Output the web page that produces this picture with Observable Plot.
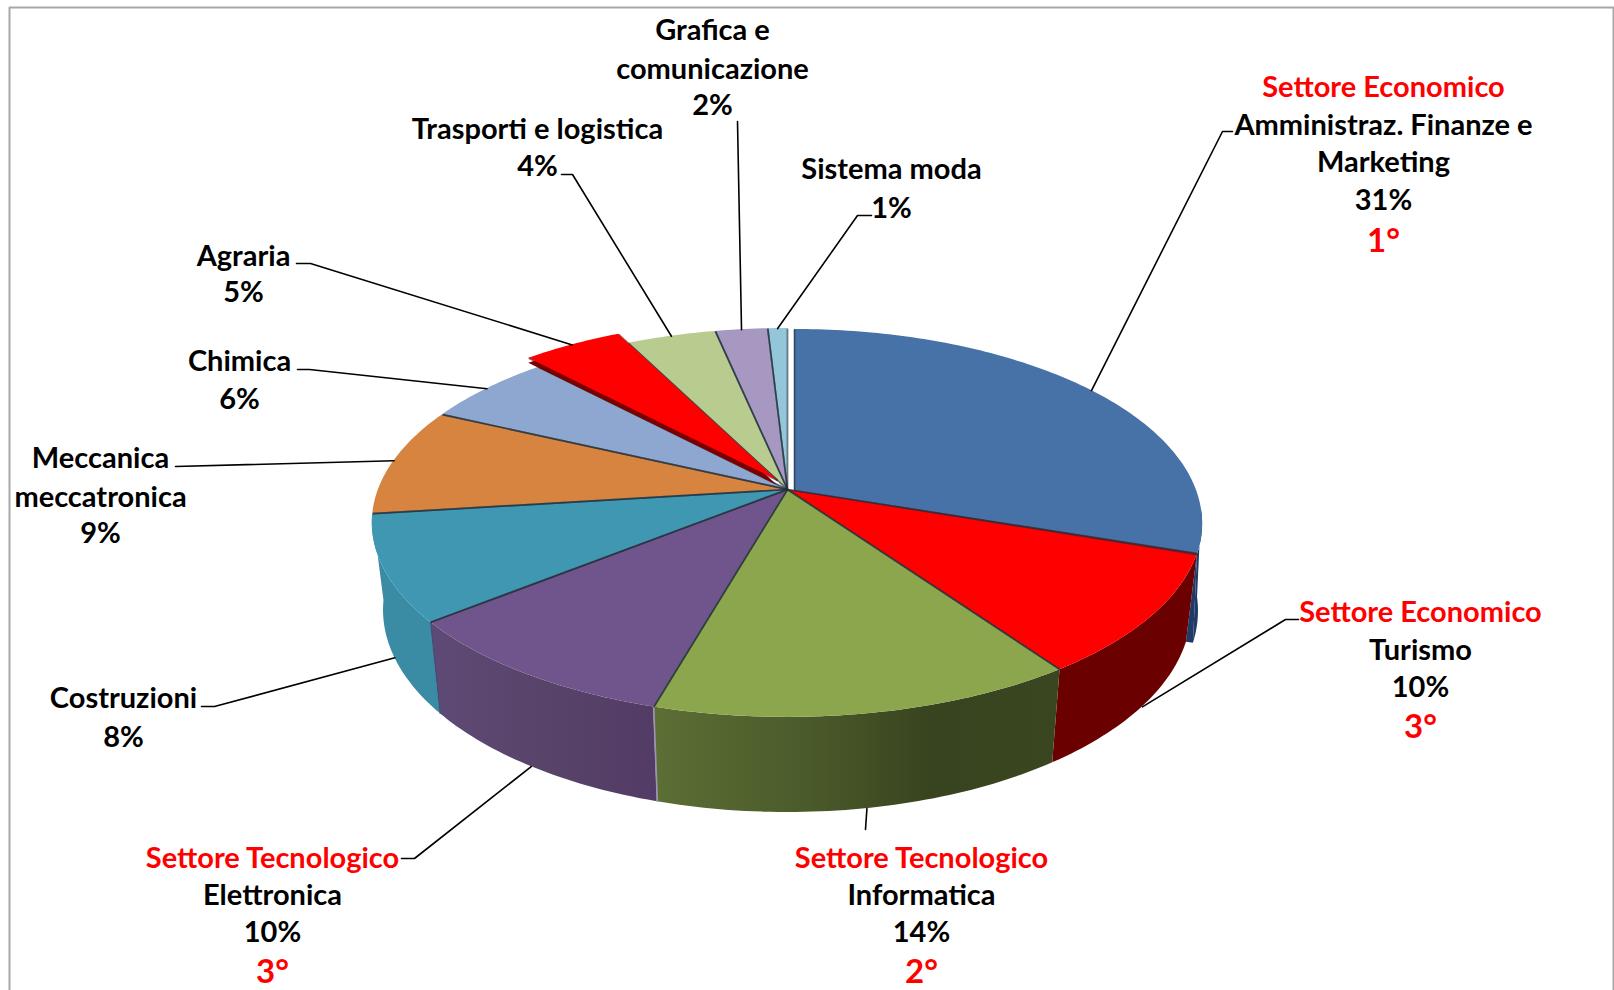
<!DOCTYPE html>
<html><head><meta charset="utf-8">
<script src="https://cdn.jsdelivr.net/npm/d3@7"></script>
<script src="https://cdn.jsdelivr.net/npm/@observablehq/plot@0.6"></script>
<style>html,body{margin:0;padding:0;background:#fff;overflow:hidden}svg{display:block}</style>
</head><body><div id="chart"></div>
<script>
// ---- data ----
const sectorLines = [["Amministraz. Finanze e","Marketing"],["Turismo"],["Informatica"],["Elettronica"],["Costruzioni"],["Meccanica","meccatronica"],["Chimica"],["Agraria"],["Trasporti e logistica"],["Grafica e","comunicazione"],["Sistema moda"]];
const shares = [30.2,10.1,14.1,9.8,8.8,9,6,4.6,4.1,2.4,0.9];   // slice sizes estimated from the drawn angles
const printedPercent = ["31%","10%","14%","10%","8%","9%","6%","5%","4%","2%","1%"];
const groupTitle = ["Settore Economico","Settore Economico","Settore Tecnologico","Settore Tecnologico",null,null,null,null,null,null,null];
const rank = ["1°","3°","2°","3°",null,null,null,null,null,null,null];

// ---- styles and layout, kept apart from the data ----
const topColors = ["#4672a8","#ff0000","#8ba64d","#70558d","#3f97b1","#d6843f","#8ea7d0","#ff0000","#b8cc90","#a698c0","#92c6d8"];
const sideColors = ["#1f3a66","#6a0000",null,null,"#3a8ba4"];
const explode = [[7,1,0.983],[0,0],[0,0],[0,0],[0,0],[0,0],[0,0],[-10,-9]];
const labelX = [1383,1420,921,272,123,100,239,243,537,712,891];
const labelY = [[87,125,162,200,241],[612,650,687,727],[858,895,932,972],[858,895,932,972],[698,737],[458,497,533],[361,399],[256,292],[129,166],[30,69,105],[169,208]];
const leaderStarts = [[[1232,131],[1222,131]],[[1298,619],[1285,619]],[[865,829]],[[401,858],[414,858]],[[201,706],[214,706]],[[175,466]],[[297,369],[309,369]],[[296,263],[310,263]],[[561,174],[572,174]],[[737,121]],[[871,215],[857,215]]];
const W = 1614, H = 990;
const cx = 787, cy = 489, a = 409, b = 188.7, k = 0.172;     // tilted-disc projection
const depth = 86, rimX = 0.973, rimY = 1.04;
const textSize = 29, rankSize = 33, red = "#ff0000", black = "#000000";

// ---- projection of a pie angle onto the tilted disc ----
const rad = d => d * Math.PI / 180;
function topPoint(t, o = [0,0]) { const u = Math.sin(rad(t)), v = Math.cos(rad(t)), n = 1 + k * v, sx = o[2] || 1;
  return {x: cx + o[0] + sx * a * u / n, y: cy + o[1] - b * v / n}; }
function rimPoint(t, o = [0,0]) { const u = Math.sin(rad(t)), v = Math.cos(rad(t)), n = 1 + k * v;
  return {x: cx + o[0] + rimX * a * u / n, y: cy + o[1] + depth - rimY * b * v / n}; }

let acc = 0;
const slices = shares.map((share, i) => { const start = acc * 3.6; acc += share;
  return {i, start, end: acc * 3.6, mid: (start + acc * 3.6) / 2, offset: explode[i] || [0,0], fill: topColors[i]}; });

const steps = (s, e) => [s, ...d3.range(Math.floor(s) + 1, e, 1), e];
const wedge = (s, lift = 0) => steps(s.start, s.end).map(t => { const p = topPoint(t, s.offset);
  return {slice: s.i, fill: s.fill, x: p.x, y: p.y + lift, ax: cx + s.offset[0], ay: cy + s.offset[1] + lift}; });
const wall = s => { const from = Math.max(s.start, 96), to = Math.min(s.end, 266);
  return from >= to ? [] : steps(from, to).map(t => { const p = topPoint(t, s.offset), q = rimPoint(t, s.offset);
    return {slice: s.i, x: p.x, y: p.y, x2: q.x, y2: q.y}; }); };

// cut face left open where the first slice is pulled away from the second
const cutFace = (t => { const o = slices[0].offset, p1 = topPoint(t, o), p2 = rimPoint(t, o), q1 = topPoint(t), q2 = rimPoint(t);
  return [{x: p1.x, y: p1.y, x2: q1.x, y2: q1.y}, {x: p2.x, y: p2.y, x2: q2.x, y2: q2.y}]; })(slices[0].end);

const edges = slices.flatMap(s => [s.start, s.end].map(t => { const p = topPoint(t, s.offset);
  return {x1: cx + s.offset[0], y1: cy + s.offset[1], x2: p.x, y2: p.y}; }));
const wallEdge = t => { const p = topPoint(t), q = rimPoint(t); return {x1: p.x, y1: p.y, x2: q.x, y2: q.y}; };

const leaders = slices.flatMap(s => { const v = Math.cos(rad(s.mid));
  const end = v < 0 ? rimPoint(s.mid, s.offset) : topPoint(s.mid, s.offset);
  return [...leaderStarts[s.i].map(([x, y]) => ({slice: s.i, x, y})), {slice: s.i, x: end.x, y: end.y}]; });

const rows = slices.flatMap(s => {
  const lines = [];
  if (groupTitle[s.i]) lines.push({text: groupTitle[s.i], color: red, size: textSize});
  sectorLines[s.i].forEach(text => lines.push({text, color: black, size: textSize}));
  lines.push({text: printedPercent[s.i], color: black, size: textSize});
  if (rank[s.i]) lines.push({text: rank[s.i], color: red, size: rankSize});
  return lines.map((l, j) => ({...l, x: labelX[s.i], y: labelY[s.i][j]}));
});

const border = [{x:9,y:H},{x:9,y:7},{x:1613,y:7},{x:1613,y:H}];

const gradients = () => {
  const svg = d3.create("svg:defs");
  const add = (id, stops) => { const g = svg.append("linearGradient").attr("id", id);
    stops.forEach(([o, c]) => g.append("stop").attr("offset", o).attr("stop-color", c)); };
  add("sideGreen", [[0,"#5c6f35"],[0.38,"#4b5a2a"],[0.68,"#38441f"],[1,"#3a4620"]]);
  add("sidePurple", [[0,"#5e4a76"],[0.5,"#584369"],[1,"#523c66"]]);
  return svg.node();
};
const sideArea = (s, fill) => Plot.area(wall(s), {x1: "x", y1: "y", x2: "x2", y2: "y2", fill});
const linkOpts = {x1: "x1", y1: "y1", x2: "x2", y2: "y2"};

const chart = Plot.plot({
  width: W, height: H, margin: 0, style: {background: "#fff"},
  x: {domain: [0, W], range: [0, W], axis: null},
  y: {domain: [0, H], range: [0, H], axis: null},
  color: {type: "identity"},
  marks: [
    gradients,
    Plot.line(border, {x: "x", y: "y", stroke: "#a8a8a8", strokeWidth: 2}),
    Plot.area(cutFace, {x1: "x", y1: "y", x2: "x2", y2: "y2", fill: sideColors[0]}),
    sideArea(slices[0], sideColors[0]),
    sideArea(slices[4], sideColors[4]),
    sideArea(slices[3], "url(#sidePurple)"),
    sideArea(slices[1], sideColors[1]),
    sideArea(slices[2], "url(#sideGreen)"),
    Plot.link([wallEdge(slices[2].end)], {...linkOpts, stroke: "#9d94b4", strokeWidth: 1.6}),
    Plot.link([wallEdge(slices[3].end)], {...linkOpts, stroke: "#3d4f7a", strokeWidth: 1.2}),
    Plot.area(slices.filter(s => s.i !== 7).flatMap(s => wedge(s)), {x1: "x", y1: "y", x2: "ax", y2: "ay", z: "slice", fill: "fill"}),
    Plot.link(edges, {...linkOpts, stroke: "#22303c", strokeOpacity: 0.65, strokeWidth: 1.7}),
    Plot.area(wedge(slices[7], 5), {x1: "x", y1: "y", x2: "ax", y2: "ay", z: "slice", fill: "#7a0000"}),
    Plot.area(wedge(slices[7]), {x1: "x", y1: "y", x2: "ax", y2: "ay", z: "slice", fill: "fill"}),
    Plot.line(leaders, {x: "x", y: "y", z: "slice", stroke: "#000", strokeWidth: 1.6}),
    Plot.text(rows, {x: "x", y: "y", text: "text", fill: "color", fontSize: "size", fontFamily: "Lato", fontWeight: 700, textAnchor: "middle", lineAnchor: "middle"})
  ]
});
document.getElementById("chart").append(chart);
</script></body></html>
